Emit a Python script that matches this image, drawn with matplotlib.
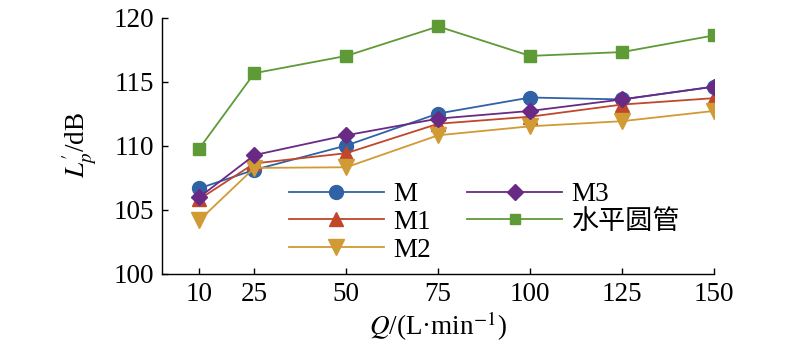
import matplotlib
matplotlib.use("Agg")
import matplotlib.pyplot as plt
from matplotlib.lines import Line2D

plt.rcParams['font.family'] = ['Liberation Serif', 'Noto Sans CJK SC', 'DejaVu Sans']
plt.rcParams['mathtext.fontset'] = 'stix'

Q = [10, 25, 50, 75, 100, 125, 150]
M = [106.65, 108.1, 110.0, 112.5, 113.75, 113.6, 114.6]
M1 = [105.8, 108.6, 109.4, 111.7, 112.25, 113.2, 113.7]
M2 = [104.15, 108.25, 108.3, 110.8, 111.5, 111.9, 112.7]
M3 = [105.95, 109.25, 110.8, 112.1, 112.7, 113.6, 114.6]
H = [109.75, 115.65, 117.0, 119.3, 117.0, 117.3, 118.6]

labels = ['M', 'M1', 'M2', 'M3', '水平圆管']
colors = ['#2f63a6', '#c0472a', '#d09a35', '#692a85', '#5e9a36']
markers = ['o', '^', 'v', 'D', 's']
msizes = [10, 10, 11, 8, 8]
series = [M, M1, M2, M3, H]

FS = 19.5

fig = plt.figure(figsize=(8.0, 3.53), dpi=100)
ax = fig.add_axes([0.203, 0.2252, 0.6895, 0.7252])

for y, lab, c, mk, ms in zip(series, labels, colors, markers, msizes):
    ln, = ax.plot(Q, y, color=c, marker=mk, markersize=ms, linewidth=1.3,
                  label=lab, zorder=3)
    ln.set_clip_on(True)
    ln.set_clip_box(ax.bbox)

ax.set_xlim(0, 150)
ax.set_ylim(100, 120)
ax.set_xticks(Q)
ax.set_yticks([100, 105, 110, 115, 120])
ax.spines['top'].set_visible(False)
ax.spines['right'].set_visible(False)
for s in ['left', 'bottom']:
    ax.spines[s].set_linewidth(1.0)
ax.tick_params(direction='in', length=4.5, width=1.0, labelsize=FS, pad=6)

ax.set_ylabel(r"$L^{\prime}_{p}$/dB", fontsize=FS, labelpad=11)
ax.set_xlabel(r"$Q$/(L·min$^{-1}$)", fontsize=FS, labelpad=2)

leg_handles = []
for c, mk, ms in zip(colors, markers, [10, 10, 11, 8, 7]):
    leg_handles.append(Line2D([], [], color=c, marker=mk, markersize=ms, linewidth=1.3))
fig.legend(leg_handles, labels, loc='upper left', bbox_to_anchor=(0.361, 0.484),
           ncol=2, frameon=False, fontsize=FS, handlelength=3.5,
           handletextpad=0.35, columnspacing=1.35, labelspacing=0.1,
           borderaxespad=0, borderpad=0)

fig.savefig('out.png', dpi=100)
